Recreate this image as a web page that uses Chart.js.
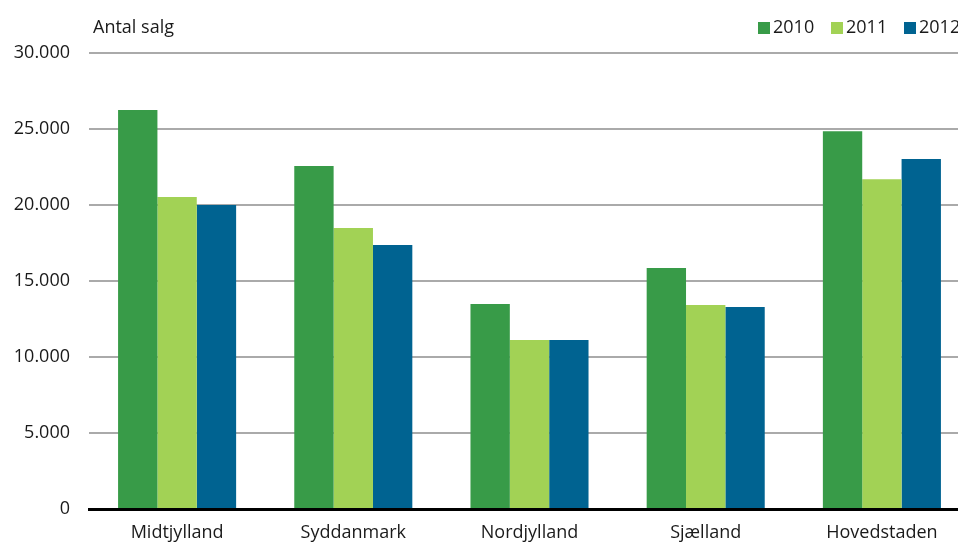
<!DOCTYPE html>
<html>
<head>
<meta charset="utf-8">
<script src="https://cdn.jsdelivr.net/npm/chart.js@4.4.1/dist/chart.umd.min.js"></script>
<style>
  html, body { margin: 0; padding: 0; background: #fff; overflow: hidden; }
  #wrap { width: 958px; height: 545px; overflow: hidden; }
  canvas { display: block; }
</style>
</head>
<body>
<div id="wrap"><canvas id="chart" width="975" height="545"></canvas></div>
<script>
const regions = ["Midtjylland", "Syddanmark", "Nordjylland", "Sjælland", "Hovedstaden"];
const years = ["2010", "2011", "2012"];
const sales2010 = [26250, 22570, 13490, 15860, 24850];
const sales2011 = [20530, 18490, 11120, 13420, 21690];
const sales2012 = [20000, 17370, 11120, 13290, 23030];
const colors = ["#389b48", "#a2d255", "#006391"];
const yTicks = [0, 5000, 10000, 15000, 20000, 25000, 30000];

const font = "'Open Sans', sans-serif";

function fmt(v) {
  return String(v).replace(/\B(?=(\d{3})+(?!\d))/g, ".");
}

// title "Antal salg" and legend at the top
const topText = {
  id: "topText",
  afterDraw(chart) {
    const ctx = chart.ctx;
    ctx.save();
    ctx.font = "18px " + font;
    ctx.fillStyle = "#1a1a1a";
    ctx.textBaseline = "middle";
    ctx.textAlign = "left";
    ctx.fillText("Antal salg", 93, 28);
    let x = 758;
    chart.data.datasets.forEach(ds => {
      ctx.fillStyle = ds.backgroundColor;
      ctx.fillRect(x, 22, 12, 12);
      ctx.fillStyle = "#1a1a1a";
      ctx.fillText(ds.label, x + 15, 28);
      x += 73;
    });
    ctx.restore();
  }
};

new Chart(document.getElementById("chart"), {
  type: "bar",
  data: {
    labels: regions,
    datasets: [
      { label: years[0], data: sales2010, backgroundColor: colors[0] },
      { label: years[1], data: sales2011, backgroundColor: colors[1] },
      { label: years[2], data: sales2012, backgroundColor: colors[2] }
    ]
  },
  options: {
    responsive: false,
    animation: false,
    devicePixelRatio: 1,
    layout: { padding: { top: 53, right: 5, left: 0, bottom: 0 } },
    datasets: { bar: { categoryPercentage: 0.67, barPercentage: 1.0 } },
    plugins: { legend: { display: false }, tooltip: { enabled: false } },
    scales: {
      x: {
        grid: { display: false, drawTicks: false },
        border: { display: true, color: "#000", width: 3 },
        ticks: { color: "#1a1a1a", font: { family: font, size: 18 }, padding: 13 },
        afterFit(s) { s.height = 36; }
      },
      y: {
        min: 0,
        max: 30000,
        afterBuildTicks(s) { s.ticks = yTicks.map(v => ({ value: v })); },
        grid: { color: "#aaaaaa", lineWidth: 2, drawTicks: false },
        border: { display: false },
        ticks: {
          color: "#1a1a1a",
          font: { family: font, size: 18 },
          padding: 19,
          callback: v => fmt(v)
        },
        afterFit(s) { s.width = 89; }
      }
    }
  },
  plugins: [topText]
});
</script>
</body>
</html>
